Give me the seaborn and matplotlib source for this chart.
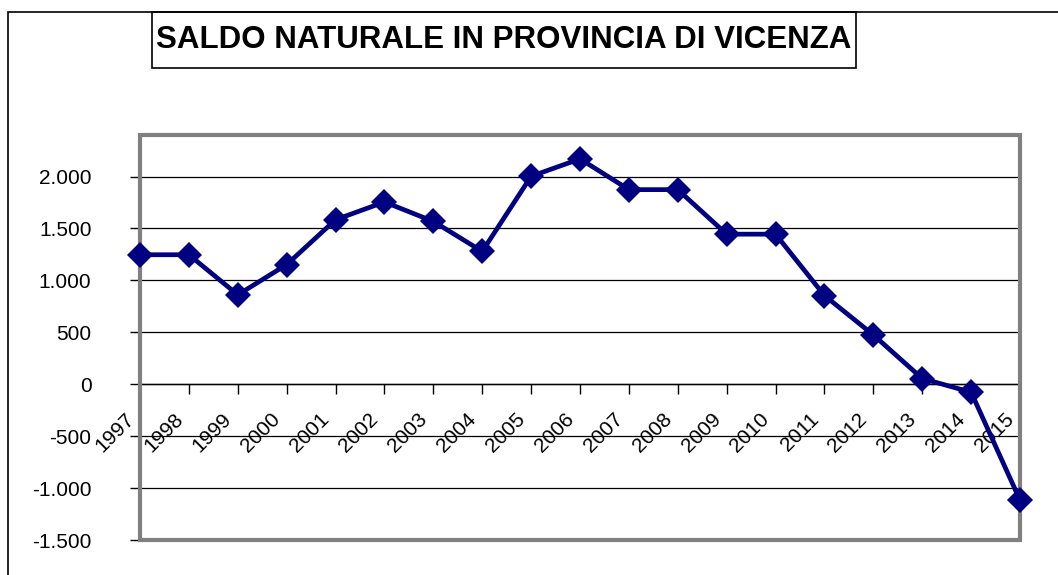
import numpy as np
import pandas as pd
import matplotlib
matplotlib.use("Agg")
import matplotlib.pyplot as plt
from matplotlib.patches import Rectangle
from matplotlib.ticker import FuncFormatter
from matplotlib.transforms import ScaledTranslation
import seaborn as sns

# dati
anni = [str(a) for a in range(1997, 2016)]
saldo = [1247, 1247, 861, 1152, 1584, 1755, 1568, 1279, 2002, 2170,
         1874, 1874, 1445, 1445, 854, 475, 55, -77, -1116]
titolo = "SALDO NATURALE IN PROVINCIA DI VICENZA"
y_ticks = [-1500, -1000, -500, 0, 500, 1000, 1500, 2000]

df = pd.DataFrame({"anno": anni, "saldo": saldo})

sns.set_theme(style="white")
plt.rcParams["font.family"] = ["Liberation Sans", "DejaVu Sans"]
plt.rcParams["text.color"] = "black"
plt.rcParams["xtick.color"] = "black"
plt.rcParams["ytick.color"] = "black"
plt.rcParams["xtick.labelcolor"] = "black"
plt.rcParams["ytick.labelcolor"] = "black"

W, H = 1058, 575
fig = plt.figure(figsize=(W / 100, H / 100), dpi=100)
ax = fig.add_axes([140 / W, 1 - 540 / H, (1020 - 140) / W, (540 - 135) / H])

sns.lineplot(data=df, x="anno", y="saldo", ax=ax, color="#000080",
             linewidth=3.4, marker="D", markersize=13, markeredgewidth=0,
             zorder=5, clip_on=False)

ax.set_xlim(0, len(anni) - 1)
ax.set_ylim(-1500, 2400)
ax.set_xlabel("")
ax.set_ylabel("")

# griglia orizzontale
ax.set_yticks(y_ticks)
for v in y_ticks:
    ax.axhline(v, color="black", linewidth=0.9, zorder=1)

ax.yaxis.set_major_formatter(FuncFormatter(lambda v, p: f"{int(v):,}".replace(",", ".")))
ax.tick_params(axis="y", direction="out", length=7, width=1, color="black",
               labelsize=15, labelcolor="black", pad=28, left=True)

# asse x sulla linea dello zero
for s in ["left", "right", "top"]:
    ax.spines[s].set_visible(False)
ax.spines["bottom"].set_position(("data", 0))
ax.spines["bottom"].set_color("black")
ax.spines["bottom"].set_linewidth(1)
ax.set_xticks(range(len(anni)))
ax.set_xticklabels(anni, rotation=45, ha="right", va="center",
                   rotation_mode="anchor")
ax.tick_params(axis="x", direction="out", length=7, width=1, color="black",
               labelsize=15, labelcolor="black", pad=16, bottom=True)
sposta = ScaledTranslation(-9 / 100, 0, fig.dpi_scale_trans)
for lab in ax.get_xticklabels():
    lab.set_transform(lab.get_transform() + sposta)

# cornice grigia dell'area del tracciato
ax.add_patch(Rectangle((0, 0), 1, 1, transform=ax.transAxes, fill=False,
                       edgecolor="#808080", linewidth=3, clip_on=False, zorder=4))

# cornice esterna e riquadro del titolo
fig.patches.append(Rectangle((8 / W, -0.05), 1.2, 1 - 12 / H + 0.05,
                             transform=fig.transFigure, fill=False,
                             edgecolor="black", linewidth=1.2))
fig.patches.append(Rectangle((152 / W, 1 - 68 / H), (856 - 152) / W, 56 / H,
                             transform=fig.transFigure, fill=False,
                             edgecolor="black", linewidth=1.2))
fig.text(504 / W, 1 - 40 / H, titolo, ha="center", va="center",
         fontsize=22.5, fontweight="bold", color="black")

fig.savefig("out.png", dpi=100)
